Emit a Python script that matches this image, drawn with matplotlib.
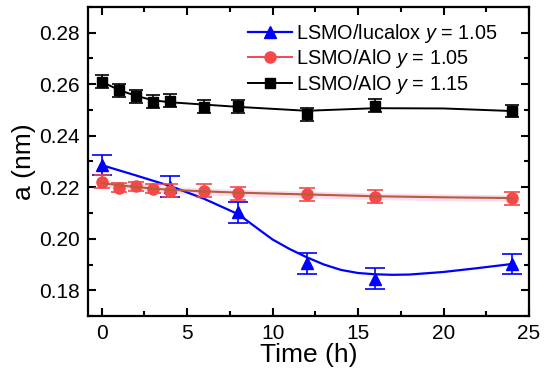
import numpy as np
import matplotlib.pyplot as plt
from matplotlib.lines import Line2D
from matplotlib.ticker import MultipleLocator

plt.rcParams['font.family'] = ['Liberation Sans', 'DejaVu Sans']
plt.rcParams['mathtext.fontset'] = 'custom'
plt.rcParams['mathtext.it'] = 'Liberation Sans:italic'
plt.rcParams['mathtext.rm'] = 'Liberation Sans'

# measured lattice parameter vs time
time = [0, 1, 2, 3, 4, 6, 8, 12, 16, 24]
time_lucalox = [0, 4, 8, 12, 16, 24]

lucalox_a = [0.2286, 0.2202, 0.2103, 0.1905, 0.1845, 0.1902]
lucalox_err = [0.0038, 0.0040, 0.0040, 0.0040, 0.0040, 0.0040]

alo105_a = [0.2221, 0.2198, 0.2204, 0.2195, 0.2186, 0.2186, 0.2176, 0.2173, 0.2163, 0.2158]
alo105_err = [0.0025, 0.0018, 0.0018, 0.0018, 0.0025, 0.0025, 0.0025, 0.0025, 0.0025, 0.0025]

alo115_a = [0.2610, 0.2577, 0.2553, 0.2532, 0.2536, 0.2513, 0.2515, 0.2484, 0.2516, 0.2496]
alo115_err = [0.0025, 0.0025, 0.0025, 0.0025, 0.0025, 0.0025, 0.0025, 0.0025, 0.0025, 0.0025]

# smooth guide curves
fit_t_lucalox = [0, 2, 4, 6, 8, 9.3, 10, 11, 12, 13, 14, 15, 16, 17, 18, 20, 22, 24]
fit_lucalox = [0.2286, 0.2246, 0.2205, 0.2155, 0.2095, 0.2031, 0.1997, 0.1960, 0.1928,
               0.1900, 0.1879, 0.1867, 0.1862, 0.1860, 0.1861, 0.1871, 0.1886, 0.1902]
fit_t_alo = [0, 1, 2, 3, 4, 6, 8, 12, 16, 20, 24]
fit_alo105 = [0.2216, 0.2208, 0.2201, 0.2195, 0.2190, 0.2184, 0.2179, 0.2172, 0.2165, 0.2161, 0.2158]
band_alo105 = 0.0013
fit_alo115 = [0.2610, 0.2578, 0.2555, 0.2538, 0.2530, 0.2521, 0.2512, 0.2497, 0.2507, 0.2506, 0.2496]

fig = plt.figure(figsize=(5.5, 3.8), dpi=100)
ax = fig.add_axes([0.16, 0.1684, 0.8018, 0.8132])

blue = '#0000ff'
red = '#f54848'
brown = '#b0603a'

# pink confidence band around the AlO y=1.05 curve
fa = np.array(fit_alo105)
ax.fill_between(fit_t_alo, fa - band_alo105, fa + band_alo105, color='#ffd2ee', alpha=0.8, lw=0, zorder=1)

ax.plot(fit_t_alo, fit_alo115, color='black', lw=1.4, zorder=2)
ax.plot(fit_t_lucalox, fit_lucalox, color=blue, lw=1.6, zorder=2)

ax.errorbar(time, alo115_a, yerr=alo115_err, fmt='s', color='black', ms=7.5,
            capsize=5, elinewidth=1.2, capthick=1.2, zorder=3)
ax.errorbar(time_lucalox, lucalox_a, yerr=lucalox_err, fmt='^', color=blue, ms=8.5,
            capsize=7, elinewidth=1.2, capthick=1.2, zorder=3)
ax.errorbar(time, alo105_a, yerr=alo105_err, fmt='o', color=red, ecolor=red, ms=8,
            capsize=6, elinewidth=1.2, capthick=1.2, zorder=4)
ax.plot(fit_t_alo, fit_alo105, color=brown, lw=1.5, zorder=5)

ax.set_xlim(-0.8, 25)
ax.set_ylim(0.17, 0.29)
ax.xaxis.set_major_locator(MultipleLocator(5))
ax.xaxis.set_minor_locator(MultipleLocator(2.5))
ax.yaxis.set_major_locator(MultipleLocator(0.02))
ax.yaxis.set_minor_locator(MultipleLocator(0.01))
ax.yaxis.set_major_formatter(plt.FormatStrFormatter('%.2f'))
ax.tick_params(which='both', direction='in', top=True, right=True, width=1.5, labelsize=15)
ax.tick_params(which='major', length=6, pad=6)
ax.tick_params(which='minor', length=3.5)
for s in ax.spines.values():
    s.set_linewidth(1.6)

ax.set_xlabel('Time (h)', fontsize=19, labelpad=0)
ax.set_ylabel('a (nm)', fontsize=19, labelpad=2)

handles = [
    Line2D([], [], color=blue, marker='^', ms=8.5, lw=1.6),
    Line2D([], [], color=red, marker='o', ms=8, lw=1.4),
    Line2D([], [], color='black', marker='s', ms=7.5, lw=1.4),
]
labels = ['LSMO/lucalox $y$ = 1.05', 'LSMO/AlO $y$ = 1.05', 'LSMO/AlO $y$ = 1.15']
ax.legend(handles, labels, loc='upper left', bbox_to_anchor=(0.363, 0.952), frameon=False,
          fontsize=14.3, handlelength=2.2, handletextpad=0.2, labelspacing=0.12,
          borderpad=0, borderaxespad=0)

fig.savefig('out.png', dpi=100)
